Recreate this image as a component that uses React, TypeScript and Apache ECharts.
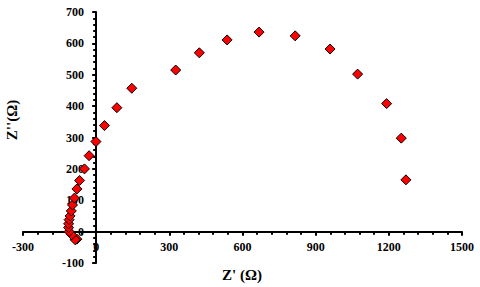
import React, { useEffect, useRef } from "react";
import * as echarts from "echarts";

const zReal = [-79, -86, -100, -111, -113, -113, -111, -107, -102, -97, -89, -79, -68, -48, -29, -1, 34, 85, 146, 326, 423, 537, 668, 816, 959, 1072, 1191, 1251, 1270];
const zImag = [-24, -26, -10, 0, 13, 25, 38, 50, 66, 85, 107, 136, 163, 200, 242, 287, 338, 395, 457, 515, 570, 611, 636, 624, 582, 502, 408, 298, 165];

const xTicks = { min: -300, max: 1500, interval: 300 };
const yTicks = { min: -100, max: 700, interval: 100 };

const FONT = "'Liberation Serif', 'Times New Roman', serif";

export default function App() {
  const ref = useRef<HTMLDivElement>(null);
  useEffect(() => {
    if (!ref.current) return;
    const chart = echarts.init(ref.current, null, { renderer: "svg" });
    const data = zReal.map((x, i) => [x, zImag[i]]);
    const label = {
      color: "#000",
      fontFamily: FONT,
      fontWeight: "bold" as const,
      fontSize: 12,
      formatter: (v: number) => String(v),
    };
    const lineAxis = {
      type: "value" as const,
      axisLine: { show: true, onZero: true, lineStyle: { color: "#000", width: 2 } },
      axisTick: { show: true, inside: false, length: 4, lineStyle: { color: "#000", width: 2 } },
      minorTick: { show: true, splitNumber: 5, length: 3, lineStyle: { color: "#000", width: 2 } },
      splitLine: { show: false },
      axisLabel: { show: false },
    };
    const labelAxis = {
      type: "value" as const,
      axisLine: { show: false, onZero: false },
      axisTick: { show: false },
      minorTick: { show: false },
      splitLine: { show: false },
    };
    chart.setOption({
      animation: false,
      backgroundColor: "#fff",
      grid: { left: 23, right: 18, top: 12, bottom: 24, containLabel: false, outerBoundsMode: "none" },
      xAxis: [
        { ...lineAxis, ...xTicks },
        { ...labelAxis, ...xTicks, position: "bottom", offset: -31, axisLabel: { ...label, margin: 9 } },
      ],
      yAxis: [
        { ...lineAxis, ...yTicks },
        { ...labelAxis, ...yTicks, position: "left", offset: -73, axisLabel: { ...label, margin: 12 } },
      ],
      series: [
        {
          type: "scatter",
          data,
          symbol: "diamond",
          symbolSize: 10,
          itemStyle: { color: "#ff0000", borderColor: "#000", borderWidth: 1, opacity: 1 },
        },
      ],
      graphic: [
        {
          type: "text",
          x: 242,
          y: 275,
          style: {
            text: "Z' (Ω)",
            font: `bold 15px ${FONT}`,
            fill: "#000",
            textAlign: "center",
            textVerticalAlign: "middle",
          },
        },
        {
          type: "text",
          x: 12,
          y: 120,
          rotation: Math.PI / 2,
          style: {
            text: "Z''(Ω)",
            font: `bold 15px ${FONT}`,
            fill: "#000",
            textAlign: "center",
            textVerticalAlign: "middle",
          },
        },
      ],
    });
    return () => chart.dispose();
  }, []);
  return <div ref={ref} style={{ width: 480, height: 287, position: "absolute", left: 0, top: 0 }} />;
}
